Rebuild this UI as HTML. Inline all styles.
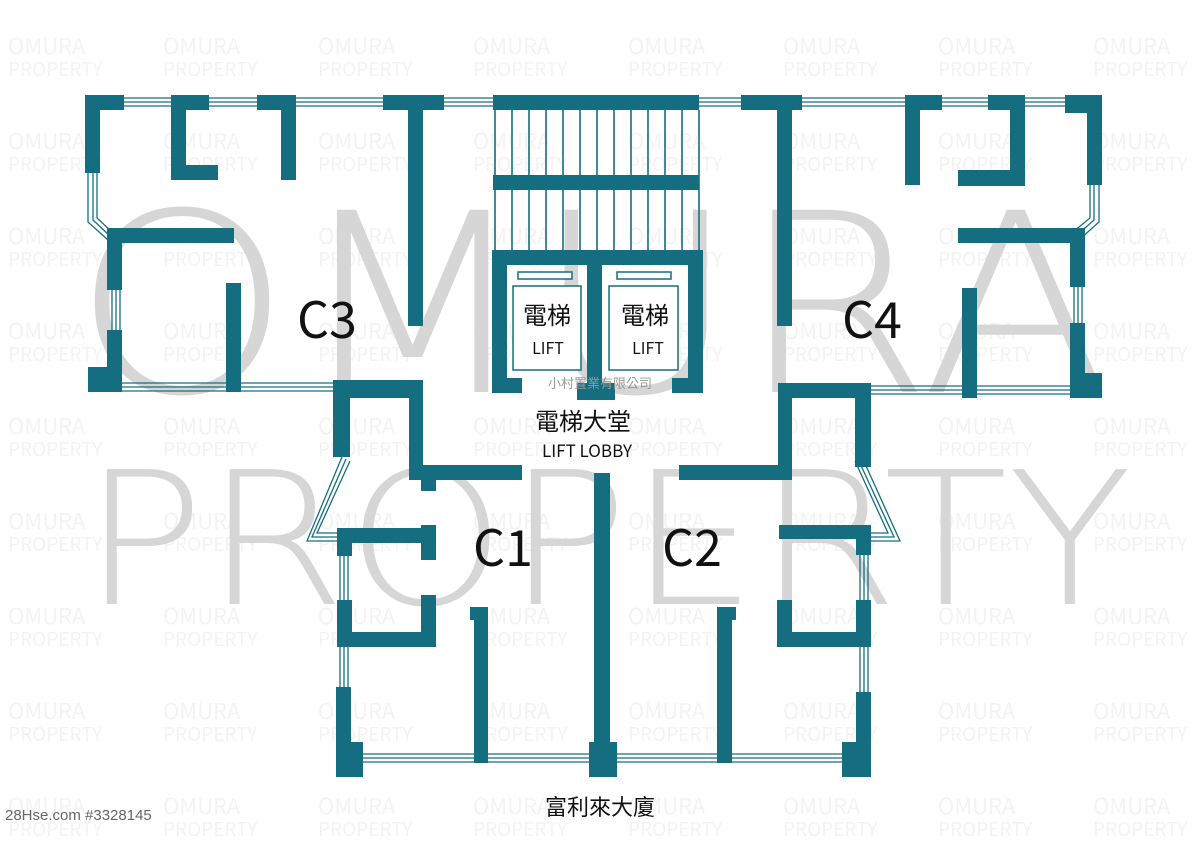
<!DOCTYPE html>
<html><head><meta charset="utf-8"><style>
html,body{margin:0;padding:0;background:#fff;}
svg{display:block;}
</style></head><body>
<svg width="1200" height="848" viewBox="0 0 1200 848" xmlns="http://www.w3.org/2000/svg">
<rect width="1200" height="848" fill="#fff"/>
<!-- small watermarks -->
<g font-family="'Noto Sans CJK TC', 'DejaVu Sans', sans-serif" font-size="22" fill="#f3f3f3">
<g id="col">
<text x="8" y="54">OMURA</text><text x="8" y="76" font-size="19">PROPERTY</text>
<text x="8" y="149">OMURA</text><text x="8" y="171" font-size="19">PROPERTY</text>
<text x="8" y="244">OMURA</text><text x="8" y="266" font-size="19">PROPERTY</text>
<text x="8" y="339">OMURA</text><text x="8" y="361" font-size="19">PROPERTY</text>
<text x="8" y="434">OMURA</text><text x="8" y="456" font-size="19">PROPERTY</text>
<text x="8" y="529">OMURA</text><text x="8" y="551" font-size="19">PROPERTY</text>
<text x="8" y="624">OMURA</text><text x="8" y="646" font-size="19">PROPERTY</text>
<text x="8" y="719">OMURA</text><text x="8" y="741" font-size="19">PROPERTY</text>
<text x="8" y="814">OMURA</text><text x="8" y="836" font-size="19">PROPERTY</text>
</g>
<use href="#col" x="155"/><use href="#col" x="310"/><use href="#col" x="465"/><use href="#col" x="620"/><use href="#col" x="775"/><use href="#col" x="930"/><use href="#col" x="1085"/>
</g>
<!-- big watermark -->
<g font-family="'DejaVu Sans', 'Liberation Sans', sans-serif" font-weight="200" fill="#d6d6d6">
<text x="72" y="392" font-size="250" textLength="1040" lengthAdjust="spacingAndGlyphs">OMURA</text>
<text x="82" y="604" font-size="185" textLength="1050" lengthAdjust="spacingAndGlyphs">PROPERTY</text>
</g>
<!-- windows -->
<g fill="none" stroke="#146e80" stroke-width="1.3">
<path d="M100 98H1090M100 102H1090M100 106H1090"/>
<path d="M88 110V222L108 240M93 110V220L110 236M97 110V218L112 232"/>
<path d="M112 243V380M116 243V380M120 243V380"/>
<path d="M110 383H340M110 387H340M110 391H340"/>
<path d="M860 386H1090M860 390H1090M860 394H1090"/>
<path d="M1099 110V222L1079 240M1094 110V220L1076 236M1090 110V218L1073 232"/>
<path d="M1074 240V380M1078 240V380M1082 240V380"/>
<path d="M342 457L307 541H340M346 459L312 537H340M350 461L317 533H340"/>
<path d="M340 540V760M344 540V760M348 540V760"/>
<path d="M340 754H868M340 758H868M340 762H868"/>
<path d="M862 457L900 541H868M858 459L894 537H868M855 461L888 533H868"/>
<path d="M860 540V760M864 540V760M868 540V760"/>
</g>
<!-- stairs -->
<g stroke="#146e80" stroke-width="1.6">
<path d="M495 110V250M512 110V250M529 110V250M546 110V250M563 110V250M580 110V250M597 110V250M614 110V250M631 110V250M648 110V250M665 110V250M682 110V250M699 110V250"/>
</g>
<!-- walls -->
<g fill="#146e80">
<rect x="85" y="95" width="39" height="15"/><rect x="85" y="95" width="15" height="78"/>
<rect x="171" y="95" width="38" height="15"/><rect x="171" y="95" width="15" height="85"/><rect x="171" y="165" width="47" height="15"/>
<rect x="257" y="95" width="39" height="15"/><rect x="281" y="95" width="15" height="85"/>
<rect x="383" y="95" width="61" height="15"/><rect x="408" y="95" width="15" height="231"/>
<rect x="107" y="228" width="127" height="15"/><rect x="107" y="228" width="15" height="62"/><rect x="107" y="330" width="15" height="62"/><rect x="88" y="367" width="34" height="25"/><rect x="226" y="283" width="15" height="109"/>
<rect x="333" y="380" width="90" height="18"/><rect x="333" y="380" width="17" height="77"/><rect x="409" y="380" width="14" height="100"/><rect x="409" y="465" width="113" height="15"/><rect x="421" y="480" width="15" height="11"/>
<rect x="337" y="528" width="99" height="15"/><rect x="337" y="528" width="15" height="28"/><rect x="421" y="525" width="15" height="35"/><rect x="337" y="600" width="15" height="47"/><rect x="337" y="632" width="99" height="15"/><rect x="421" y="595" width="15" height="52"/>
<rect x="336" y="687" width="15" height="90"/><rect x="336" y="742" width="27" height="35"/><rect x="474" y="607" width="14" height="156"/><rect x="470" y="607" width="18" height="13"/>
<rect x="594" y="473" width="16" height="270"/><rect x="589" y="742" width="28" height="35"/>
<rect x="717" y="607" width="15" height="156"/><rect x="717" y="607" width="19" height="13"/><rect x="842" y="742" width="29" height="35"/><rect x="856" y="692" width="15" height="50"/>
<rect x="779" y="525" width="92" height="14"/><rect x="856" y="525" width="15" height="30"/><rect x="777" y="600" width="15" height="47"/><rect x="777" y="632" width="94" height="15"/><rect x="856" y="600" width="15" height="33"/>
<rect x="778" y="383" width="93" height="15"/><rect x="778" y="383" width="14" height="97"/><rect x="679" y="465" width="113" height="15"/><rect x="855" y="383" width="16" height="84"/>
<rect x="493" y="95" width="206" height="15"/><rect x="493" y="175" width="206" height="15"/>
<rect x="492" y="250" width="211" height="15"/><rect x="492" y="250" width="15" height="143"/><rect x="492" y="378" width="30" height="15"/><rect x="587" y="250" width="15" height="140"/><rect x="577" y="383" width="38" height="17"/><rect x="688" y="250" width="15" height="143"/><rect x="672" y="378" width="31" height="15"/>
<rect x="741" y="95" width="61" height="15"/><rect x="777" y="95" width="15" height="231"/>
<rect x="905" y="95" width="37" height="15"/><rect x="905" y="95" width="15" height="90"/>
<rect x="988" y="95" width="37" height="15"/><rect x="1010" y="95" width="15" height="91"/><rect x="958" y="170" width="67" height="16"/>
<rect x="1065" y="95" width="37" height="18"/><rect x="1087" y="95" width="15" height="90"/>
<rect x="958" y="228" width="127" height="15"/><rect x="1070" y="228" width="15" height="59"/><rect x="1070" y="323" width="15" height="75"/><rect x="1070" y="373" width="32" height="25"/><rect x="962" y="288" width="15" height="110"/>
</g>
<!-- lift cars -->
<g fill="#fff" stroke="#146e80" stroke-width="1.5">
<rect x="513" y="286" width="68" height="84"/><rect x="518" y="272" width="54" height="7"/>
<rect x="609" y="286" width="69" height="84"/><rect x="617" y="272" width="54" height="7"/>
</g>
<g font-family="'Noto Sans CJK TC', 'Liberation Sans', sans-serif" fill="#111" text-anchor="middle">
<text x="547" y="324" font-size="24">電梯</text><text x="548" y="354" font-size="16">LIFT</text>
<text x="645" y="324" font-size="24">電梯</text><text x="648" y="354" font-size="16">LIFT</text>
<text x="600" y="388" font-size="13" fill="#999">小村置業有限公司</text>
<text x="583" y="430" font-size="24">電梯大堂</text>
<text x="587" y="457" font-size="17">LIFT LOBBY</text>
<text x="327" y="338" font-size="50">C3</text>
<text x="872" y="338" font-size="50">C4</text>
<text x="503" y="566" font-size="50">C1</text>
<text x="692" y="566" font-size="50">C2</text>
<text x="600" y="815" font-size="22">富利來大廈</text>
</g>
<text x="5" y="820" font-family="'Liberation Sans', sans-serif" font-size="15" fill="#666">28Hse.com #3328145</text>
</svg>
</body></html>
